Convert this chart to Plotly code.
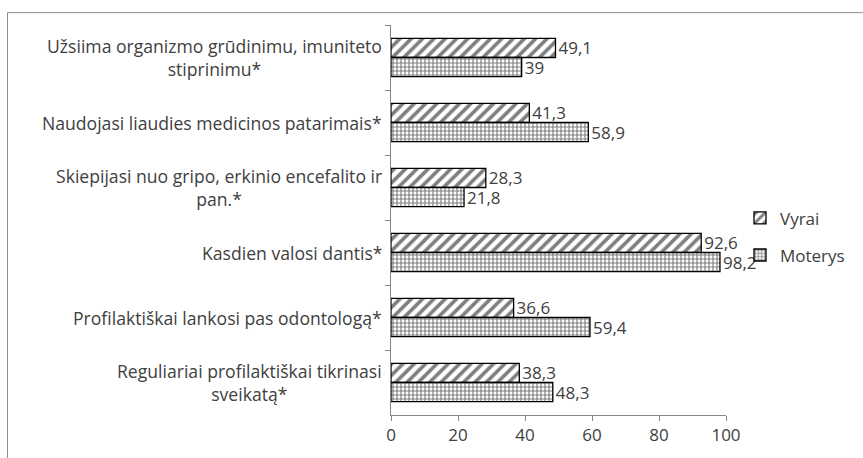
import plotly.graph_objects as go

# Categories, top to bottom
categories = [
    "Užsiima organizmo grūdinimu, imuniteto<br>stiprinimu*",
    "Naudojasi liaudies medicinos patarimais*",
    "Skiepijasi nuo gripo, erkinio encefalito ir<br>pan.*",
    "Kasdien valosi dantis*",
    "Profilaktiškai lankosi pas odontologą*",
    "Reguliariai profilaktiškai tikrinasi<br>sveikatą*",
]
vyrai = [49.1, 41.3, 28.3, 92.6, 36.6, 38.3]
moterys = [39, 58.9, 21.8, 98.2, 59.4, 48.3]
x_ticks = [0, 20, 40, 60, 80, 100]

W, H = 863, 458
L, R, T, B = 391, 726, 25, 419   # plot area in pixels

FONT = "Open Sans"
FS = 17
TXT = "#404040"
AXIS = "#868686"


def fmt(v):
    return f"{v:g}".replace(".", ",")


fig = go.Figure()
fig.add_trace(go.Bar(
    y=categories, x=vyrai, orientation="h", name="Vyrai",
    legendgroup="v",
    text=[fmt(v) for v in vyrai], textposition="outside",
    constraintext="none",
    textfont=dict(family=FONT, size=FS, color=TXT),
    marker=dict(color="white", line=dict(color="black", width=1.3),
                pattern=dict(shape="/", fgcolor="black", bgcolor="white",
                             size=8, solidity=0.45)),
    cliponaxis=False,
))
fig.add_trace(go.Bar(
    y=categories, x=moterys, orientation="h", name="Moterys",
    legendgroup="m",
    text=[fmt(v) for v in moterys], textposition="outside",
    constraintext="none",
    textfont=dict(family=FONT, size=FS, color=TXT),
    marker=dict(color="white", line=dict(color="black", width=1.3),
                pattern=dict(shape="+", fgcolor="black", bgcolor="white",
                             size=4, solidity=0.5)),
    cliponaxis=False,
))

# Category labels, centred line by line, to the left of the axis
for c in categories:
    fig.add_annotation(
        x=-0.022, xref="paper", y=c, yref="y", text=c,
        xanchor="right", yanchor="middle", align="center", showarrow=False,
        font=dict(family=FONT, size=17.6, color=TXT),
    )

# Chart frame (top and left edges visible)
pw, ph = R - L, B - T
def px_x(p):
    return (p - L) / pw
def px_y(p):
    return (B - p) / ph

fig.add_shape(type="line", xref="paper", yref="paper",
              x0=px_x(7.5), x1=px_x(880), y0=px_y(12.5), y1=px_y(12.5),
              line=dict(color="#8c8c8c", width=1))
fig.add_shape(type="line", xref="paper", yref="paper",
              x0=px_x(7.5), x1=px_x(7.5), y0=px_y(12.5), y1=px_y(480),
              line=dict(color="#8c8c8c", width=1))

fig.update_layout(
    width=W, height=H,
    margin=dict(l=L, r=W - R, t=T, b=H - B),
    paper_bgcolor="white", plot_bgcolor="white",
    barmode="group", bargap=0.41, bargroupgap=0,
    font=dict(family=FONT, size=FS, color=TXT),
    showlegend=True,
    legend=dict(x=px_x(740), xanchor="left", y=px_y(239), yanchor="middle",
                font=dict(family=FONT, size=FS, color=TXT),
                traceorder="grouped", tracegroupgap=12,
                bgcolor="rgba(0,0,0,0)"),
    xaxis=dict(range=[0, 100], tickvals=x_ticks, showgrid=False,
               showline=True, linecolor=AXIS, linewidth=1,
               ticks="outside", ticklen=5, tickcolor=AXIS,
               tickfont=dict(family=FONT, size=FS, color=TXT),
               zeroline=False, fixedrange=True),
    yaxis=dict(autorange="reversed", showticklabels=False, showgrid=False,
               showline=True, linecolor=AXIS, linewidth=1,
               ticks="outside", ticklen=5, tickcolor=AXIS,
               tickson="boundaries", fixedrange=True),
)

fig.write_html("out.html")
